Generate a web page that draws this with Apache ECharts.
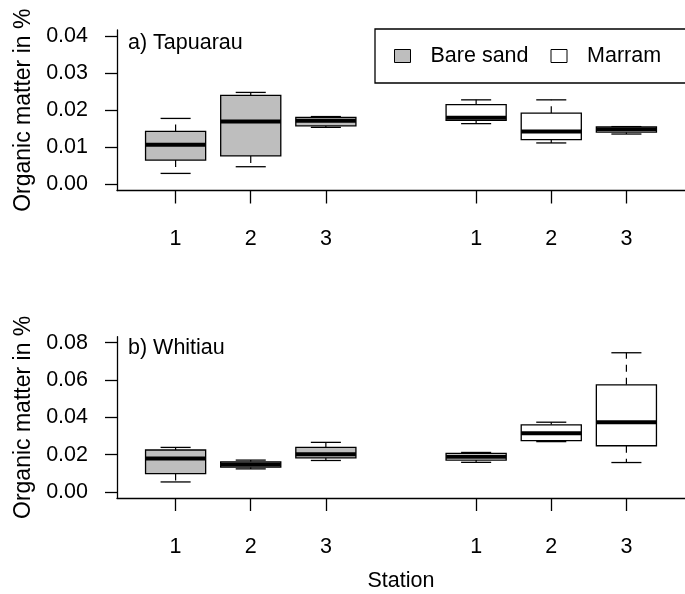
<!DOCTYPE html>
<html>
<head>
<meta charset="utf-8">
<script src="https://cdn.jsdelivr.net/npm/echarts@6/dist/echarts.min.js"></script>
<style>
  html, body { margin: 0; padding: 0; background: #ffffff; }
  #chart { width: 685px; height: 594px; }
</style>
</head>
<body>
<div id="chart"></div>
<script>
// Station labels shown under each treatment group
const stationLabels = ['1', '2', '3'];
const treatmentNames = ['Bare sand', 'Marram'];
const panelTitles = ['a) Tapuarau', 'b) Whitiau'];

// Five-number summaries per station: [lower whisker, Q1, median, Q3, upper whisker]
const tapuarauBare = [
  [0.0030, 0.0066, 0.0107, 0.0143, 0.0178],
  [0.0048, 0.0077, 0.0170, 0.0240, 0.0248],
  [0.0154, 0.0158, 0.0172, 0.0181, 0.0183]
];
const tapuarauMarram = [
  [0.0164, 0.0173, 0.0180, 0.0215, 0.0228],
  [0.0112, 0.0121, 0.0143, 0.0192, 0.0228],
  [0.0136, 0.0141, 0.0149, 0.0155, 0.0156]
];
const whitiauBare = [
  [0.0054, 0.0099, 0.0180, 0.0225, 0.0239],
  [0.0124, 0.0133, 0.0148, 0.0162, 0.0171],
  [0.0169, 0.0183, 0.0202, 0.0239, 0.0266]
];
const whitiauMarram = [
  [0.0159, 0.0171, 0.0189, 0.0207, 0.0212],
  [0.0270, 0.0275, 0.0315, 0.0360, 0.0374],
  [0.0158, 0.0248, 0.0374, 0.0574, 0.0746]
];

// Y-axis tick values for each panel
const tapuarauTicks = [0, 0.01, 0.02, 0.03, 0.04];
const whitiauTicks = [0, 0.02, 0.04, 0.06, 0.08];

const FONT = '"Liberation Sans", Arial, Helvetica, sans-serif';
const FS = 21.5;
const FS_YNAME = 23;
const BARE_FILL = '#bebebe';
const MARRAM_FILL = '#ffffff';

// Group positions on the x scale: bare sand at 1..3, marram at 5..7
const barePos = stationLabels.map((s, i) => i + 1);
const marramPos = stationLabels.map((s, i) => i + 5);
const xTicks = barePos.concat(marramPos);
const xPad = (xTicks[xTicks.length - 1] - xTicks[0] + 1) * 0.04;
const xMin = xTicks[0] - 0.5 - xPad;
const xMax = xTicks[xTicks.length - 1] + 0.5 + xPad;

function rows(positions, stats) {
  return stats.map((s, i) => [positions[i]].concat(s));
}

function boxRenderer(fill) {
  return function (params, api) {
    const x = api.value(0);
    const lo = api.coord([x, api.value(1)]);
    const q1 = api.coord([x, api.value(2)]);
    const md = api.coord([x, api.value(3)]);
    const q3 = api.coord([x, api.value(4)]);
    const hi = api.coord([x, api.value(5)]);
    const bw = api.size([0.8, 0])[0];
    const cw = api.size([0.4, 0])[0];
    const cx = lo[0];
    const dashed = { stroke: '#000', lineWidth: 1.2, lineDash: [7, 6] };
    const solid = { stroke: '#000', lineWidth: 1.3 };
    return {
      type: 'group',
      children: [
        { type: 'line', shape: { x1: cx, y1: q3[1], x2: cx, y2: hi[1] }, style: dashed },
        { type: 'line', shape: { x1: cx, y1: q1[1], x2: cx, y2: lo[1] }, style: dashed },
        { type: 'line', shape: { x1: cx - cw / 2, y1: hi[1], x2: cx + cw / 2, y2: hi[1] }, style: solid },
        { type: 'line', shape: { x1: cx - cw / 2, y1: lo[1], x2: cx + cw / 2, y2: lo[1] }, style: solid },
        { type: 'rect', shape: { x: cx - bw / 2, y: q3[1], width: bw, height: q1[1] - q3[1] },
          style: { fill: fill, stroke: '#000', lineWidth: 1.3 } },
        { type: 'line', shape: { x1: cx - bw / 2, y1: md[1], x2: cx + bw / 2, y2: md[1] },
          style: { stroke: '#000', lineWidth: 4 } }
      ]
    };
  };
}

function xAxisFor(gridIndex, withName) {
  return {
    type: 'value', gridIndex: gridIndex, min: xMin, max: xMax,
    name: withName ? 'Station' : '',
    nameLocation: 'middle', nameGap: 72,
    nameTextStyle: { fontFamily: FONT, fontSize: FS, color: '#000' },
    axisLine: { show: true, onZero: false, lineStyle: { color: '#000', width: 1.3 } },
    axisTick: { show: true, length: 13, customValues: xTicks, lineStyle: { color: '#000', width: 1.3 } },
    axisLabel: {
      customValues: xTicks, margin: 38,
      fontFamily: FONT, fontSize: FS, color: '#000',
      formatter: v => stationLabels[(Math.round(v) - 1) % 4]
    },
    splitLine: { show: false }
  };
}

function yAxisFor(gridIndex, ticks) {
  const pad = (ticks[ticks.length - 1] - ticks[0]) * 0.04;
  return {
    type: 'value', gridIndex: gridIndex,
    min: ticks[0] - pad, max: ticks[ticks.length - 1] + pad,
    name: 'Organic matter in %', nameLocation: 'middle', nameRotate: 90, nameGap: 80,
    nameTextStyle: { fontFamily: FONT, fontSize: FS_YNAME, color: '#000' },
    axisLine: { show: true, onZero: false, lineStyle: { color: '#000', width: 1.3 } },
    axisTick: { show: true, length: 12, customValues: ticks, lineStyle: { color: '#000', width: 1.3 } },
    axisLabel: {
      customValues: ticks, margin: 29,
      fontFamily: FONT, fontSize: FS, color: '#000',
      formatter: v => v.toFixed(2)
    },
    splitLine: { show: false }
  };
}

const panels = [
  { bare: tapuarauBare, marram: tapuarauMarram },
  { bare: whitiauBare, marram: whitiauMarram }
];

const series = [];
panels.forEach((p, g) => {
  series.push({
    name: treatmentNames[0], type: 'custom', xAxisIndex: g, yAxisIndex: g,
    itemStyle: { color: BARE_FILL },
    renderItem: boxRenderer(BARE_FILL),
    encode: { x: 0, y: [1, 2, 3, 4, 5] },
    data: rows(barePos, p.bare)
  });
  series.push({
    name: treatmentNames[1], type: 'custom', xAxisIndex: g, yAxisIndex: g,
    itemStyle: { color: MARRAM_FILL },
    renderItem: boxRenderer(MARRAM_FILL),
    encode: { x: 0, y: [1, 2, 3, 4, 5] },
    data: rows(marramPos, p.marram)
  });
});

const chart = echarts.init(document.getElementById('chart'), null, { renderer: 'canvas' });
chart.setOption({
  backgroundColor: '#ffffff',
  animation: false,
  textStyle: { fontFamily: FONT },
  grid: [
    { left: 117, top: 30, width: 579, height: 160.5 },
    { left: 117, top: 336.7, width: 579, height: 161.3 }
  ],
  xAxis: [xAxisFor(0, false), xAxisFor(1, true)],
  yAxis: [yAxisFor(0, tapuarauTicks), yAxisFor(1, whitiauTicks)],
  legend: {
    left: 375, top: 29, width: 500,
    orient: 'horizontal',
    padding: [16, 60, 16, 19],
    borderColor: '#000', borderWidth: 1.3,
    itemWidth: 16, itemHeight: 13, itemGap: 22,
    selectedMode: false,
    textStyle: { fontFamily: FONT, fontSize: FS, color: '#000', padding: [0, 0, 0, 15], lineHeight: 22 },
    data: [
      { name: treatmentNames[0], icon: 'rect', itemStyle: { color: BARE_FILL, borderColor: '#000', borderWidth: 1 } },
      { name: treatmentNames[1], icon: 'rect', itemStyle: { color: MARRAM_FILL, borderColor: '#000', borderWidth: 1 } }
    ]
  },
  graphic: [
    { type: 'text', left: 128, top: 32, style: { text: panelTitles[0], font: FS + 'px ' + FONT, fill: '#000' } },
    { type: 'text', left: 128, top: 337, style: { text: panelTitles[1], font: FS + 'px ' + FONT, fill: '#000' } }
  ],
  series: series
});
</script>
</body>
</html>
